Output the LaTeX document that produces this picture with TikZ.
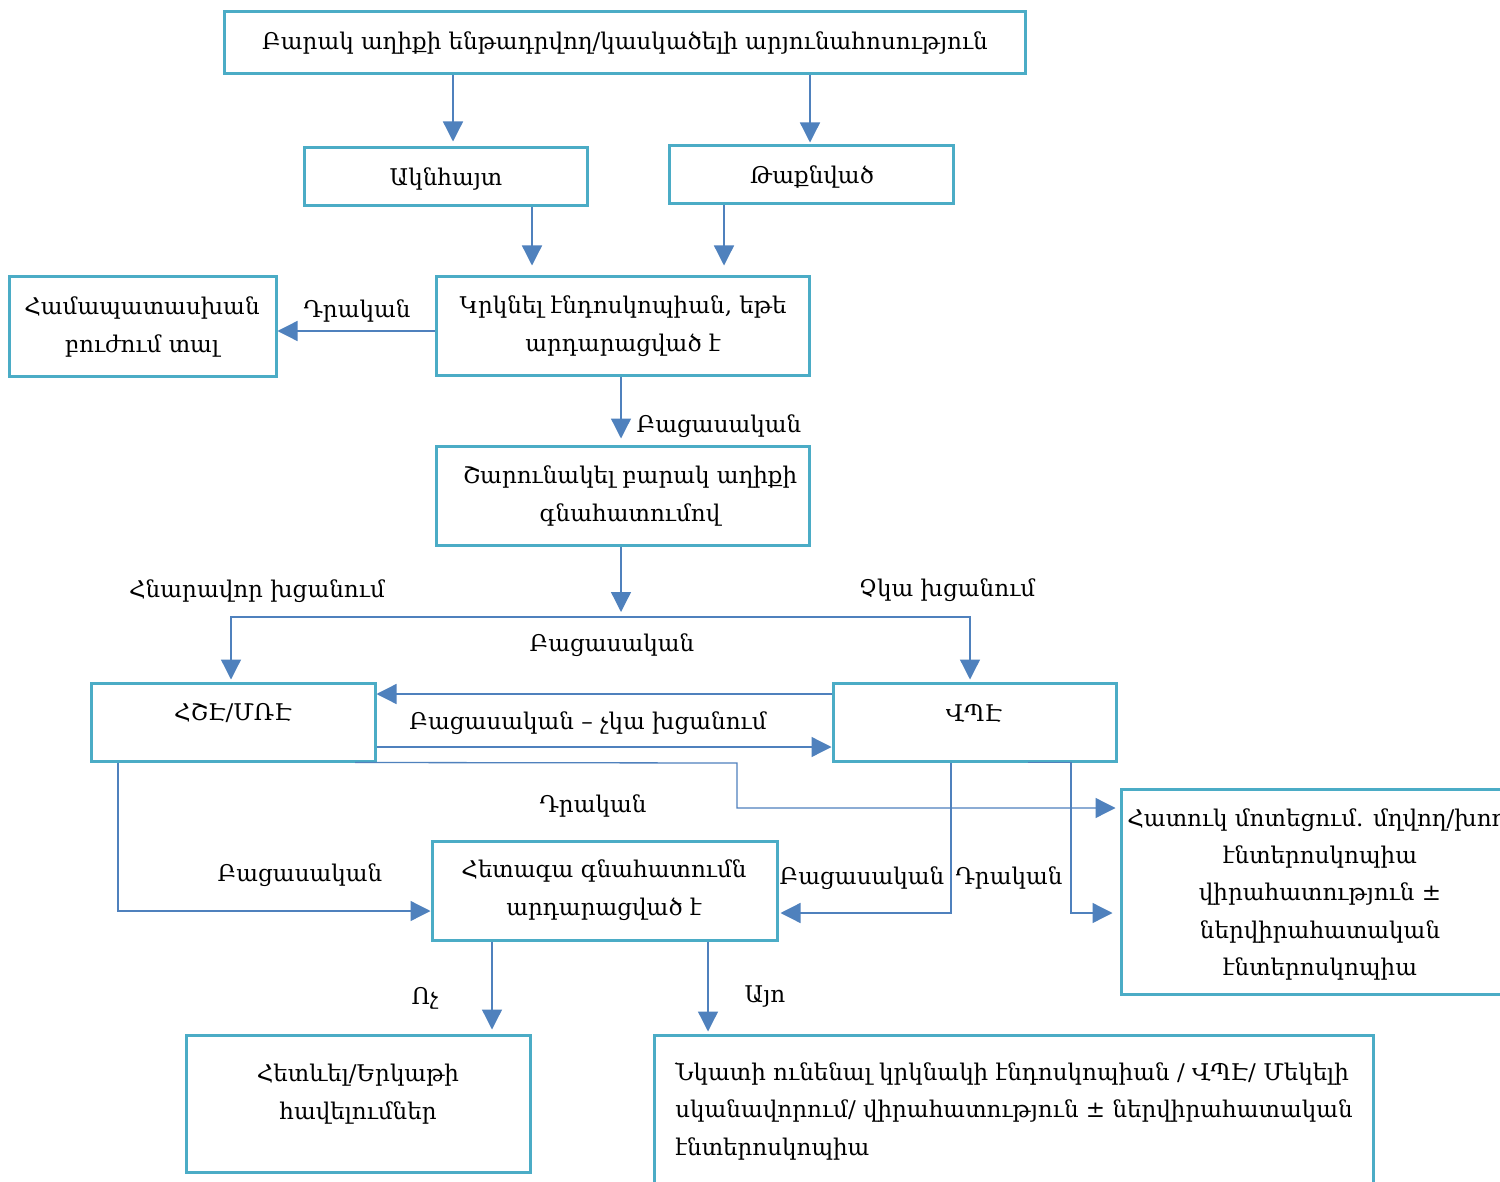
\documentclass[tikz,border=0pt]{standalone}
\usepackage{fontspec}
\setmainfont{DejaVu Serif}
\usetikzlibrary{arrows.meta}
\definecolor{boxc}{HTML}{4BACC6}
\definecolor{linec}{HTML}{4F81BD}
\newcommand\mkbox[5]{\node[box, minimum width={(#4-#2)*0.5pt}, minimum height={(#5-#3)*0.5pt}] (#1) at ({(#2+#4)/2},{(#3+#5)/2}) {};}
\tikzset{
  box/.style={draw=boxc, line width=1.5pt, rectangle, inner sep=0pt},
  txt/.style={inner sep=0pt, font=\fontsize{11.5}{18.75}\selectfont, align=center},
  conn/.style={draw=linec, line width=0.65pt, -{Triangle[length=10pt,width=10pt]}},
}
\begin{document}
\begin{tikzpicture}[x=0.5pt,y=-0.5pt]
\path[use as bounding box, clip] (0,0) rectangle (1500,1182);
\fill[white] (0,0) rectangle (1500,1182);
% boxes
\mkbox{top}{224}{12}{1025}{74}
\mkbox{akn}{304}{148}{587}{206}
\mkbox{taq}{669}{146}{953}{204}
\mkbox{krk}{436}{277}{809}{376}
\mkbox{ham}{9}{277}{276}{377}
\mkbox{shar}{436}{446}{809}{545}
\mkbox{hshe}{91}{683}{375}{761}
\mkbox{vpe}{833}{683}{1116}{761}
\mkbox{hat}{1121}{789}{1520}{994}
\mkbox{het}{432}{841}{777}{940}
\mkbox{hetl}{186}{1035}{530}{1172}
\mkbox{nka}{654}{1035}{1373}{1195}
% box texts
\node[txt] (ttop) at (625,43) {Բարակ աղիքի ենթադրվող/կասկածելի արյունահոսություն};
\node[txt] (takn) at (446,179) {Ակնհայտ};
\node[txt] (ttaq) at (812,177) {Թաքնված};
\node[txt] (tkrk) at (623,326) {Կրկնել էնդոսկոպիան, եթե\\արդարացված է};
\node[txt] (tham) at (142,327) {Համապատասխան\\բուժում տալ};
\node[txt] (tshar) at (630,496) {Շարունակել բարակ աղիքի\\գնահատումով};
\node[txt] (thshe) at (233,713) {ՀՇԷ/ՄՌԷ};
\node[txt] (tvpe) at (974,713) {ՎՊԷ};
\node[txt, anchor=west] (that1) at (1127,820) {Հատուկ մոտեցում. մղվող/խող};
\node[txt] (that2) at (1320,913) {էնտերոսկոպիա\\վիրահատություն ±\\ներվիրահատական\\էնտերոսկոպիա};
\node[txt] (thet) at (604,890) {Հետագա գնահատումն\\արդարացված է};
\node[txt] (thetl) at (358,1094) {Հետևել/Երկաթի\\հավելումներ};
\node[txt, align=left, anchor=north west] (tnka) at (675,1062) {Նկատի ունենալ կրկնակի էնդոսկոպիան / ՎՊԷ/ Մեկելի\\սկանավորում/ վիրահատություն ± ներվիրահատական\\էնտերոսկոպիա};
% connectors
\draw[conn, shorten >=2.5pt] (453,0 |- top.south) -- (453,0 |- akn.north);
\draw[conn, shorten >=1pt] (810,0 |- top.south) -- (810,0 |- taq.north);
\draw[conn, shorten >=5pt] (532,0 |- akn.south) -- (532,0 |- krk.north);
\draw[conn, shorten >=5pt] (724,0 |- taq.south) -- (724,0 |- krk.north);
\draw[conn] (krk.west |- 0,331) -- (ham.east |- 0,331);
\draw[conn, shorten >=3pt] (621,0 |- krk.south) -- (621,0 |- shar.north);
\coordinate (split) at (621,617);
\draw[conn, shorten >=2.5pt] (621,0 |- shar.south) -- (split);
\draw[conn, shorten >=1pt] (split) -| (231,0 |- hshe.north);
\draw[conn, shorten >=1pt] (split) -| (970,0 |- vpe.north);
\draw[conn] (vpe.west |- 0,694) -- (hshe.east |- 0,694);
\draw[conn] (hshe.east |- 0,747) -- (vpe.west |- 0,747);
\draw[conn, shorten >=2pt] (355,0 |- hshe.south) -- (737,763) -- (737,808) -- (hat.west |- 0,808);
\draw[conn] (118,0 |- hshe.south) |- (het.west |- 0,911);
\draw[conn, shorten >=1pt] (951,0 |- vpe.south) |- (het.east |- 0,913);
\draw[conn, shorten >=3.5pt] (1028,0 |- vpe.south) -| (1071,913) -- (hat.west |- 0,913);
\draw[conn, shorten >=2pt] (492,0 |- het.south) -- (492,0 |- hetl.north);
\draw[conn, shorten >=1pt] (708,0 |- het.south) -- (708,0 |- nka.north);
% labels
\node[txt] (l1) at (357,311) {Դրական};
\node[txt] (l2) at (719,426) {Բացասական};
\node[txt] (l3) at (257,591) {Հնարավոր խցանում};
\node[txt] (l4) at (947,590) {Չկա խցանում};
\node[txt] (l5) at (612,645) {Բացասական};
\node[txt] (l6) at (588,723) {Բացասական – չկա խցանում};
\node[txt] (l7) at (593,806) {Դրական};
\node[txt] (l8) at (300,875) {Բացասական};
\node[txt] (l9) at (862,878) {Բացասական};
\node[txt] (l10) at (1009,878) {Դրական};
\node[txt] (l11) at (425,998) {Ոչ};
\node[txt] (l12) at (765,997) {Այո};
\end{tikzpicture}
\end{document}
